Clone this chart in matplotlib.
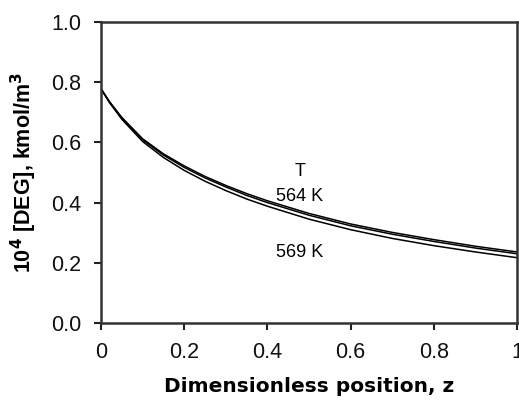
#!/usr/bin/env python3

import matplotlib
matplotlib.use("Agg")
import matplotlib.pyplot as plt

# ==========================
# DATA
# ==========================
z = [0.0, 0.02, 0.05, 0.1, 0.15, 0.2, 0.25, 0.3, 0.35, 0.4,
     0.5, 0.6, 0.7, 0.8, 0.9, 1.0]

deg_564 = [0.778, 0.736, 0.683, 0.612, 0.562, 0.522, 0.487, 0.457, 0.430,
           0.406, 0.364, 0.329, 0.301, 0.277, 0.255, 0.236]
deg_mid = [0.778, 0.735, 0.681, 0.609, 0.558, 0.517, 0.482, 0.452, 0.424,
           0.400, 0.358, 0.323, 0.295, 0.271, 0.249, 0.230]
deg_569 = [0.778, 0.733, 0.677, 0.603, 0.550, 0.507, 0.471, 0.440, 0.412,
           0.388, 0.345, 0.310, 0.281, 0.257, 0.236, 0.217]

xticks = [0, 0.2, 0.4, 0.6, 0.8, 1]
xtick_labels = ["0", "0.2", "0.4", "0.6", "0.8", "1"]
yticks = [0.0, 0.2, 0.4, 0.6, 0.8, 1.0]
ytick_labels = ["0.0", "0.2", "0.4", "0.6", "0.8", "1.0"]

# ==========================
# PLOT
# ==========================
plt.rcParams["font.family"] = ["Liberation Sans", "DejaVu Sans"]

fig = plt.figure(figsize=(5.19, 4.05), dpi=100)
ax = fig.add_axes([0.1946, 0.2025, 0.8014, 0.7432])

for series in (deg_564, deg_mid, deg_569):
    ax.plot(z, series, color="black", lw=1.1)

ax.text(0.478, 0.503, "T", ha="center", va="center", fontsize=13)
ax.text(0.478, 0.420, "564 K", ha="center", va="center", fontsize=13)
ax.text(0.478, 0.233, "569 K", ha="center", va="center", fontsize=13)

ax.set_xlim(0, 1)
ax.set_ylim(0, 1)
ax.set_xticks(xticks)
ax.set_xticklabels(xtick_labels)
ax.set_yticks(yticks)
ax.set_yticklabels(ytick_labels)
ax.tick_params(direction="out", length=5, width=1.5, labelsize=15.5,
               colors="#222222", labelcolor="#111111")
ax.tick_params(axis="y", pad=9)
ax.tick_params(axis="x", pad=9)

for sp in ax.spines.values():
    sp.set_linewidth(1.8)
    sp.set_color("#333333")

ax.set_xlabel("Dimensionless position, z", fontsize=14.5, fontweight="bold",
              family="DejaVu Sans", labelpad=10)
ax.set_ylabel(r"10$^\mathbf{4}$ [DEG], kmol/m$^\mathbf{3}$", fontsize=15.5,
              fontweight="bold", labelpad=9)

fig.savefig("out.png", dpi=100)
